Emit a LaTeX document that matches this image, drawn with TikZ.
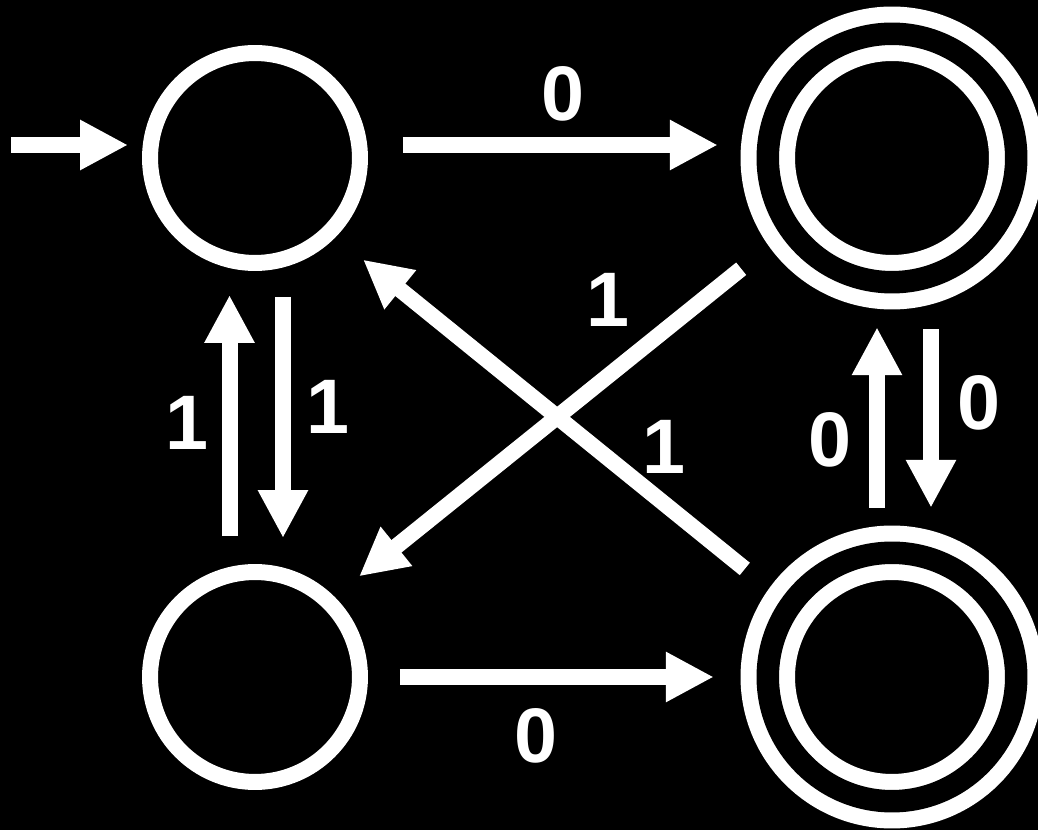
\documentclass[tikz,border=0pt]{standalone}
\usepackage{fontspec}
\setmainfont{Liberation Sans}
\usetikzlibrary{arrows.meta, positioning, calc}
\definecolor{cBack}{RGB}{0, 0, 0}
\definecolor{cInk}{RGB}{255, 255, 255}

\begin{document}
\begin{tikzpicture}[
    x=0.02cm, y=-0.02cm,
    font=\bfseries\fontsize{44}{44}\selectfont,
    >={Triangle[length=0.96cm, width=0.94cm]},
    state/.style={
        circle,
        draw=cInk,
        line width=0.32cm,
        minimum size=4.2cm,
        inner sep=0pt,
        outer sep=0pt
    },
    accept/.style={
        state,
        double=cBack,
        double distance=0.45cm,
        minimum size=4.97cm
    },
    arrow/.style={->, line width=0.32cm, color=cInk},
    lbl/.style={text=cInk, inner sep=0pt}
]

\useasboundingbox (0,0) rectangle (1038,830);
\fill[cBack] (0,0) rectangle (1038,830);

% states
\node[state] (q0) at (255,158) {};
\node[accept] (q1) at (892,158) {};
\node[state] (q2) at (255,677) {};
\node[accept] (q3) at (892,677) {};

% start arrow
\coordinate (start) at (11,145);
\draw[arrow] (start) -- ($(start -| q0.west)+(-22,0)$);

% horizontal edges
\draw[arrow, shorten <=0.86cm, shorten >=1.0cm] ([yshift=0.26cm]q0.east) -- ([yshift=0.26cm]q1.west);
\draw[arrow, shorten <=0.8cm, shorten >=1.08cm] (q2.east) -- (q3.west);

% vertical edges
\draw[arrow, shorten <=0.72cm, shorten >=0.64cm] ([xshift=-0.51cm]q2.north) -- ([xshift=-0.51cm]q0.south);
\draw[arrow, shorten <=0.68cm, shorten >=0.68cm] ([xshift=0.56cm]q0.south) -- ([xshift=0.56cm]q2.north);
\draw[arrow, shorten <=0.9cm, shorten >=0.9cm] ([xshift=-0.3cm]q3.north) -- ([xshift=-0.3cm]q1.south);
\draw[arrow, shorten <=0.94cm, shorten >=0.9cm] ([xshift=0.78cm]q1.south) -- ([xshift=0.78cm]q3.north);

% crossing edges
\draw[arrow, shorten <=1.17cm, shorten >=0.87cm] (q3.145) -- (q0.-45);
\draw[arrow, shorten <=1.26cm, shorten >=0.8cm] (q1.215) -- (q2.46);

% labels
\node[lbl] (l01) at (563,94) {0};
\node[lbl] (l23) at (536,736) {0};
\node[lbl] (l20) at (187,423) {1};
\node[lbl] (l02) at (328,407) {1};
\node[lbl] (l12) at (608,300) {1};
\node[lbl] (l30) at (664,447) {1};
\node[lbl] (l31) at (830,440) {0};
\node[lbl] (l13) at (979,403) {0};

\end{tikzpicture}
\end{document}
